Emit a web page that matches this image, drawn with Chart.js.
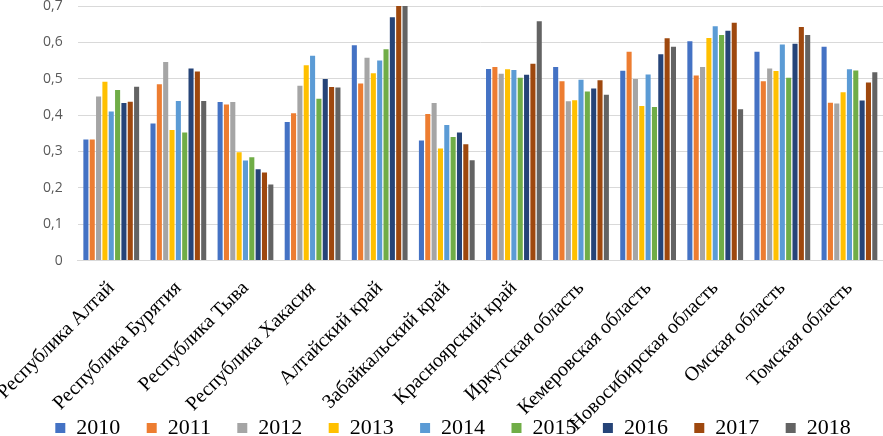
<!DOCTYPE html>
<html>
<head>
<meta charset="utf-8">
<script src="https://cdn.jsdelivr.net/npm/chart.js@4"></script>
<style>
html,body{margin:0;padding:0;background:#fff;}
#wrap{width:883px;height:436px;position:relative;overflow:hidden;}
</style>
</head>
<body>
<div id="wrap"><canvas id="c" width="883" height="436"></canvas></div>
<script>
const categories = ["Республика Алтай","Республика Бурятия","Республика Тыва","Республика Хакасия","Алтайский край","Забайкальский край","Красноярский край","Иркутская область","Кемеровская область","Новосибирская область","Омская область","Томская область"];
const years = ["2010","2011","2012","2013","2014","2015","2016","2017","2018"];
const v2010 = [0.333,0.377,0.436,0.381,0.592,0.330,0.527,0.532,0.522,0.603,0.574,0.588];
const v2011 = [0.333,0.485,0.429,0.405,0.487,0.403,0.532,0.493,0.574,0.509,0.493,0.434];
const v2012 = [0.451,0.546,0.436,0.481,0.558,0.433,0.514,0.438,0.499,0.532,0.528,0.432];
const v2013 = [0.492,0.359,0.298,0.537,0.515,0.308,0.526,0.441,0.425,0.612,0.521,0.463];
const v2014 = [0.410,0.439,0.275,0.563,0.550,0.373,0.524,0.497,0.512,0.644,0.594,0.526];
const v2015 = [0.469,0.352,0.284,0.445,0.581,0.340,0.503,0.465,0.422,0.620,0.503,0.523];
const v2016 = [0.433,0.528,0.251,0.499,0.669,0.352,0.511,0.473,0.567,0.632,0.596,0.440];
const v2017 = [0.437,0.520,0.242,0.477,0.700,0.320,0.541,0.496,0.611,0.654,0.642,0.490];
const v2018 = [0.478,0.439,0.209,0.476,0.700,0.276,0.658,0.456,0.588,0.416,0.620,0.518];
const yTicks = [0,0.1,0.2,0.3,0.4,0.5,0.6,0.7];

const seriesValues = [v2010,v2011,v2012,v2013,v2014,v2015,v2016,v2017,v2018];
const colors = ["#4472C4","#ED7D31","#A5A5A5","#FFC000","#5B9BD5","#70AD47","#264478","#9E480E","#636363"];

const datasets = years.map((y,i)=>({
  label: y,
  data: seriesValues[i],
  backgroundColor: colors[i],
  borderWidth: 0,
  categoryPercentage: 0.85,
  barPercentage: 0.8
}));

new Chart(document.getElementById('c'), {
  type: 'bar',
  data: { labels: categories, datasets },
  options: {
    responsive: false,
    animation: false,
    devicePixelRatio: 1,
    layout: { padding: { left: 17, right: -6, top: 6, bottom: -13 } },
    plugins: {
      tooltip: { enabled: false },
      legend: {
        position: 'bottom',
        labels: {
          font: { family: "'Liberation Serif', 'Times New Roman', serif", size: 22 },
          color: '#000',
          boxWidth: 10,
          boxHeight: 10,
          padding: 26.4
        }
      }
    },
    scales: {
      x: {
        grid: { display: false, drawTicks: false },
        border: { display: true, color: '#d9d9d9' },
        ticks: {
          autoSkip: false,
          maxRotation: 45,
          minRotation: 45,
          padding: 16,
          color: '#000',
          font: { family: "'Liberation Serif', 'Times New Roman', serif", size: 20 }
        },
        afterFit: (s) => {
          s.height = 130;
          s.paddingLeft = 0;
          s.paddingRight = 0;
          s._computeLabelArea = () => null;
        }
      },
      y: {
        min: 0,
        max: 0.7,
        afterBuildTicks: (s) => { s.ticks = yTicks.map(v => ({ value: v })); },
        grid: { color: '#d9d9d9', drawTicks: false },
        border: { display: false },
        ticks: {
          padding: 15,
          color: '#595959',
          font: { family: "'Open Sans', sans-serif", size: 14 },
          callback: (v) => v === 0 ? '0' : v.toFixed(1).replace('.', ',')
        },
        afterFit: (s) => {
          s.width = 60.7;
          s.paddingTop = 0;
          s.paddingBottom = 0;
        }
      }
    }
  }
});
</script>
</body>
</html>
